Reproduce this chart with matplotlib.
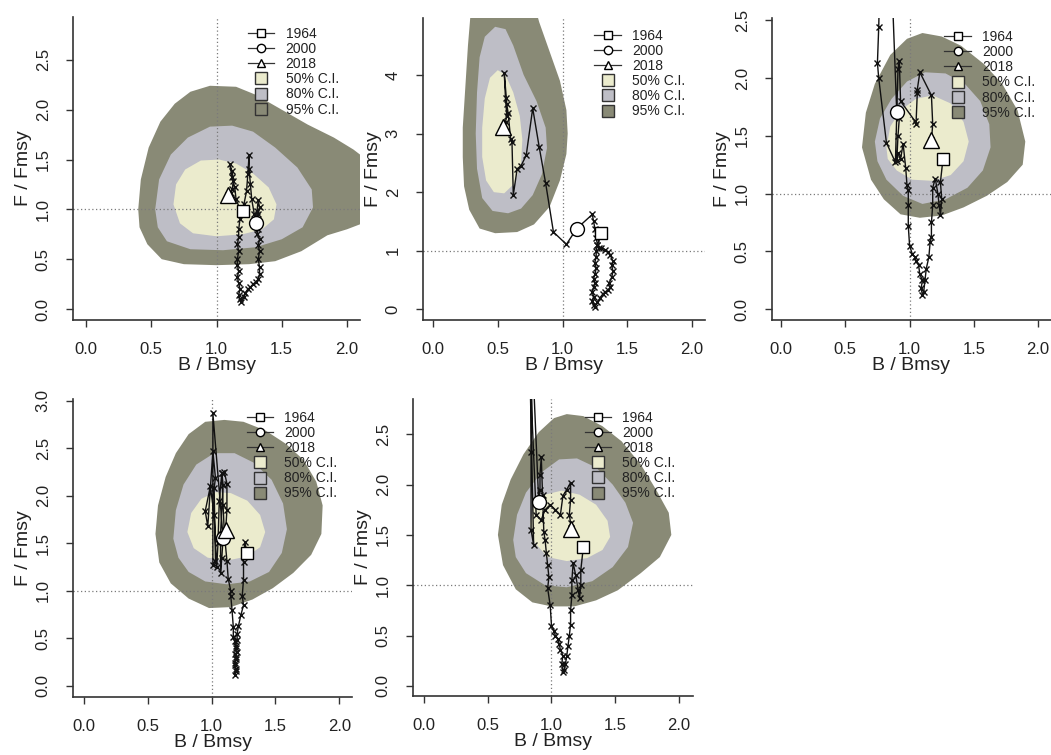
"""
Kobe plots (B/Bmsy vs F/Fmsy) for five model runs, with 50/80/95% C.I.
regions, the 1964-2018 trajectory and the 1964 / 2000 / 2018 markers.
"""

import matplotlib.pyplot as plt
from matplotlib.lines import Line2D
import numpy as np

plt.rcParams.update({"font.family": ["Liberation Sans", "DejaVu Sans"],
                     "font.size": 12})

years = np.arange(1964, 2019)
marked_years = [1964, 2000, 2018]

# ---- trajectories ---------------------------------------------------------
b1 = [1.20, 1.18, 1.17, 1.17, 1.16, 1.17, 1.16, 1.16, 1.17, 1.16, 1.17, 1.18,
      1.17, 1.18, 1.19, 1.21, 1.22, 1.24, 1.26, 1.28, 1.30, 1.32, 1.33, 1.33,
      1.32, 1.33, 1.32, 1.33, 1.31, 1.32, 1.31, 1.32, 1.33, 1.32, 1.31, 1.30,
      1.30, 1.29, 1.27, 1.26, 1.25, 1.25, 1.24, 1.23, 1.21, 1.18, 1.15, 1.14,
      1.12, 1.10, 1.12, 1.13, 1.12, 1.11, 1.09]
f1 = [0.98, 0.90, 0.80, 0.72, 0.65, 0.58, 0.50, 0.44, 0.38, 0.32, 0.26, 0.20,
      0.14, 0.10, 0.07, 0.12, 0.16, 0.20, 0.22, 0.25, 0.27, 0.30, 0.35, 0.42,
      0.50, 0.58, 0.64, 0.70, 0.75, 0.80, 0.88, 0.95, 1.02, 1.09, 0.98, 0.92,
      0.86, 0.95, 1.10, 1.25, 1.40, 1.55, 1.35, 1.18, 1.05, 1.00, 1.10, 1.22,
      1.32, 1.46, 1.38, 1.28, 1.20, 1.16, 1.14]

b2 = [1.30, 1.27, 1.26, 1.26, 1.25, 1.26, 1.25, 1.24, 1.25, 1.24, 1.23, 1.24,
      1.23, 1.24, 1.25, 1.27, 1.29, 1.31, 1.33, 1.35, 1.37, 1.36, 1.38, 1.39,
      1.38, 1.39, 1.37, 1.35, 1.33, 1.30, 1.28, 1.27, 1.26, 1.25, 1.24, 1.23,
      1.11, 1.03, 0.93, 0.87, 0.82, 0.77, 0.72, 0.68, 0.65, 0.62, 0.61, 0.60,
      0.58, 0.57, 0.55, 0.56, 0.57, 0.56, 0.54]
f2 = [1.30, 1.10, 1.00, 0.90, 0.80, 0.70, 0.60, 0.52, 0.45, 0.38, 0.30, 0.22,
      0.15, 0.08, 0.05, 0.12, 0.20, 0.26, 0.30, 0.33, 0.38, 0.45, 0.55, 0.65,
      0.75, 0.82, 0.92, 0.98, 1.02, 1.05, 1.04, 1.10, 1.22, 1.38, 1.50, 1.62,
      1.38, 1.11, 1.32, 2.15, 2.77, 3.43, 2.63, 2.45, 2.40, 1.95, 2.85, 2.90,
      3.35, 3.50, 4.04, 3.60, 3.30, 3.20, 3.11]

b3 = [1.26, 1.24, 1.25, 1.24, 1.23, 1.22, 1.20, 1.18, 1.18, 1.17, 1.17, 1.16,
      1.15, 1.13, 1.12, 1.11, 1.10, 1.09, 1.10, 1.08, 1.07, 1.05, 1.04, 1.02,
      1.00, 0.99, 0.99, 0.99, 0.98, 0.97, 0.95, 0.93, 0.91, 0.90, 0.91, 0.92,
      0.90, 0.86, 0.77, 0.76, 0.75, 0.76, 0.82, 0.89, 0.91, 0.92, 0.93, 1.04,
      1.05, 1.06, 1.06, 1.08, 1.17, 1.18, 1.17]
f3 = [1.30, 1.10, 0.95, 0.81, 0.90, 1.00, 1.13, 1.05, 0.90, 0.75, 0.62, 0.58,
      0.45, 0.35, 0.25, 0.15, 0.12, 0.18, 0.25, 0.30, 0.38, 0.42, 0.45, 0.48,
      0.55, 0.72, 0.90, 1.03, 1.07, 1.22, 1.43, 1.30, 1.35, 1.28, 1.50, 1.65,
      1.71, 2.90, 2.90, 2.44, 2.13, 2.00, 1.44, 1.27, 2.08, 2.15, 1.80, 1.63,
      1.60, 1.87, 1.90, 2.05, 1.85, 1.60, 1.46]

b4 = [1.28, 1.26, 1.25, 1.25, 1.24, 1.25, 1.23, 1.21, 1.20, 1.20, 1.19, 1.20,
      1.19, 1.18, 1.19, 1.18, 1.19, 1.18, 1.19, 1.18, 1.19, 1.18, 1.17, 1.17,
      1.16, 1.15, 1.15, 1.13, 1.12, 1.10, 1.09, 1.08, 1.09, 1.07, 1.07, 1.08,
      1.09, 1.01, 1.01, 1.03, 1.02, 1.03, 1.01, 0.97, 0.95, 0.99, 1.02, 1.04,
      1.05, 1.06, 1.08, 1.10, 1.12, 1.12, 1.11]
f4 = [1.40, 1.51, 1.30, 1.12, 0.95, 0.85, 0.75, 0.63, 0.55, 0.48, 0.42, 0.36,
      0.30, 0.24, 0.18, 0.12, 0.16, 0.22, 0.28, 0.34, 0.40, 0.47, 0.52, 0.62,
      0.80, 0.95, 1.00, 1.13, 1.32, 1.60, 1.90, 2.24, 2.12, 1.60, 1.19, 1.35,
      1.56, 2.87, 1.27, 1.32, 2.08, 2.19, 2.47, 1.68, 1.84, 2.10, 1.80, 1.25,
      1.50, 1.95, 2.24, 2.25, 2.13, 1.85, 1.64]

b5 = [1.25, 1.23, 1.23, 1.22, 1.21, 1.19, 1.17, 1.16, 1.16, 1.15, 1.15, 1.14,
      1.13, 1.12, 1.11, 1.10, 1.09, 1.08, 1.09, 1.07, 1.06, 1.05, 1.03, 1.02,
      1.00, 0.99, 0.97, 0.98, 0.97, 0.96, 0.95, 0.94, 0.93, 0.92, 0.91, 0.91,
      0.90, 0.85, 0.84, 0.84, 0.86, 0.83, 0.88, 0.92, 0.95, 0.99, 1.03, 1.07,
      1.09, 1.12, 1.15, 1.15, 1.14, 1.15, 1.15]
f5 = [1.38, 1.15, 1.00, 0.87, 0.95, 1.10, 1.22, 1.05, 0.90, 0.75, 0.61, 0.50,
      0.40, 0.30, 0.22, 0.16, 0.14, 0.22, 0.30, 0.36, 0.42, 0.47, 0.50, 0.55,
      0.60, 0.80, 0.97, 1.08, 1.20, 1.32, 1.45, 1.53, 1.90, 2.27, 2.10, 1.95,
      1.83, 3.30, 2.32, 1.55, 1.40, 3.20, 1.70, 1.65, 1.75, 1.80, 1.75, 1.70,
      1.89, 1.95, 2.02, 1.85, 1.70, 1.62, 1.56]

# ---- confidence regions, outlines as (B, F) vertices -----------------------
ci95_1 = [(0.40, 1.00), (0.42, 1.30), (0.48, 1.62), (0.57, 1.88), (0.68, 2.06),
          (0.80, 2.18), (0.95, 2.24), (1.15, 2.23), (1.30, 2.15), (1.50, 2.00),
          (1.70, 1.85), (1.90, 1.72), (2.05, 1.60), (2.20, 1.45), (2.20, 0.90),
          (2.00, 0.80), (1.85, 0.74), (1.65, 0.58), (1.45, 0.48), (1.25, 0.45),
          (1.00, 0.44), (0.75, 0.45), (0.58, 0.50), (0.47, 0.65), (0.41, 0.82)]
ci80_1 = [(0.53, 1.00), (0.56, 1.30), (0.65, 1.55), (0.78, 1.72), (0.95, 1.83),
          (1.12, 1.84), (1.28, 1.78), (1.45, 1.62), (1.62, 1.42), (1.73, 1.20),
          (1.74, 1.02), (1.66, 0.82), (1.50, 0.70), (1.30, 0.62), (1.05, 0.59),
          (0.80, 0.60), (0.62, 0.68), (0.55, 0.82)]
ci50_1 = [(0.67, 1.05), (0.69, 1.25), (0.76, 1.40), (0.88, 1.49), (1.02, 1.50),
          (1.15, 1.46), (1.28, 1.36), (1.40, 1.22), (1.46, 1.05), (1.44, 0.90),
          (1.35, 0.80), (1.20, 0.75), (1.00, 0.73), (0.82, 0.76), (0.72, 0.86)]

ci95_2 = [(0.30, 5.30), (0.77, 5.30), (0.82, 4.90), (0.90, 4.40), (0.98, 3.90),
          (1.03, 3.40), (1.04, 3.00), (1.03, 2.65), (0.98, 2.20), (0.90, 1.75),
          (0.78, 1.45), (0.65, 1.32), (0.48, 1.30), (0.36, 1.38), (0.28, 1.70),
          (0.24, 2.10), (0.23, 2.60), (0.23, 3.10), (0.25, 3.80), (0.27, 4.50)]
ci80_2 = [(0.36, 4.30), (0.40, 4.65), (0.48, 4.82), (0.56, 4.78), (0.62, 4.50),
          (0.70, 4.00), (0.80, 3.55), (0.87, 3.10), (0.88, 2.75), (0.84, 2.30),
          (0.77, 1.95), (0.68, 1.72), (0.58, 1.64), (0.46, 1.68), (0.38, 1.90),
          (0.34, 2.40), (0.33, 3.00), (0.34, 3.70)]
ci50_2 = [(0.40, 3.60), (0.44, 3.95), (0.50, 4.08), (0.56, 4.00), (0.62, 3.70),
          (0.67, 3.30), (0.69, 2.90), (0.68, 2.50), (0.63, 2.15), (0.55, 1.98),
          (0.47, 2.00), (0.41, 2.20), (0.38, 2.60), (0.38, 3.10)]

ci95_3 = [(0.63, 1.40), (0.66, 1.70), (0.73, 1.95), (0.85, 2.20), (0.98, 2.34),
          (1.10, 2.39), (1.25, 2.36), (1.40, 2.28), (1.58, 2.12), (1.72, 1.95),
          (1.84, 1.72), (1.90, 1.45), (1.88, 1.25), (1.76, 1.10), (1.60, 0.98),
          (1.42, 0.88), (1.25, 0.81), (1.08, 0.79), (0.93, 0.82), (0.80, 0.95),
          (0.70, 1.12)]
ci80_3 = [(0.73, 1.45), (0.77, 1.65), (0.86, 1.82), (0.98, 1.97), (1.12, 2.05),
          (1.28, 2.04), (1.43, 1.95), (1.55, 1.80), (1.62, 1.60), (1.63, 1.40),
          (1.57, 1.20), (1.45, 1.05), (1.28, 0.95), (1.10, 0.91), (0.95, 0.98),
          (0.82, 1.12), (0.75, 1.28)]
ci50_3 = [(0.82, 1.40), (0.85, 1.58), (0.93, 1.72), (1.05, 1.82), (1.18, 1.85),
          (1.32, 1.78), (1.42, 1.62), (1.46, 1.45), (1.42, 1.28), (1.32, 1.16),
          (1.18, 1.11), (1.02, 1.12), (0.90, 1.20), (0.83, 1.30)]

ci95_4 = [(0.56, 1.60), (0.58, 1.90), (0.64, 2.20), (0.72, 2.45), (0.82, 2.65),
          (0.95, 2.78), (1.10, 2.80), (1.25, 2.78), (1.42, 2.69), (1.58, 2.55),
          (1.72, 2.38), (1.82, 2.15), (1.87, 1.90), (1.86, 1.60), (1.78, 1.38),
          (1.64, 1.19), (1.48, 1.03), (1.32, 0.91), (1.15, 0.83), (0.98, 0.82),
          (0.82, 0.92), (0.68, 1.08), (0.59, 1.30)]
ci80_4 = [(0.70, 1.55), (0.72, 1.85), (0.78, 2.12), (0.88, 2.33), (1.02, 2.45),
          (1.18, 2.45), (1.33, 2.35), (1.47, 2.17), (1.56, 1.92), (1.59, 1.65),
          (1.55, 1.40), (1.45, 1.20), (1.30, 1.10), (1.12, 1.07), (0.95, 1.10),
          (0.82, 1.20), (0.74, 1.35)]
ci50_4 = [(0.81, 1.62), (0.84, 1.82), (0.92, 1.97), (1.03, 2.04), (1.15, 2.03),
          (1.28, 1.95), (1.38, 1.80), (1.42, 1.62), (1.38, 1.46), (1.27, 1.36),
          (1.12, 1.32), (0.97, 1.35), (0.86, 1.45)]

ci95_5 = [(0.58, 1.50), (0.61, 1.80), (0.68, 2.05), (0.78, 2.30), (0.90, 2.52),
          (1.02, 2.66), (1.12, 2.70), (1.25, 2.68), (1.40, 2.58), (1.55, 2.43),
          (1.70, 2.20), (1.82, 1.95), (1.92, 1.72), (1.94, 1.50), (1.85, 1.28),
          (1.70, 1.12), (1.52, 0.95), (1.35, 0.85), (1.18, 0.79), (1.00, 0.79),
          (0.85, 0.83), (0.72, 0.96), (0.62, 1.20)]
ci80_5 = [(0.70, 1.45), (0.73, 1.70), (0.80, 1.92), (0.92, 2.12), (1.06, 2.25),
          (1.20, 2.26), (1.35, 2.17), (1.48, 2.00), (1.58, 1.82), (1.64, 1.62),
          (1.60, 1.38), (1.48, 1.18), (1.32, 1.04), (1.12, 0.98), (0.95, 1.00),
          (0.80, 1.12), (0.72, 1.28)]
ci50_5 = [(0.83, 1.60), (0.86, 1.78), (0.95, 1.90), (1.08, 1.94), (1.22, 1.90),
          (1.35, 1.80), (1.44, 1.64), (1.46, 1.48), (1.40, 1.35), (1.28, 1.27),
          (1.12, 1.24), (0.97, 1.28), (0.87, 1.42)]

ci_labels = ["50% C.I.", "80% C.I.", "95% C.I."]
ci_colors = ["#EBEBCD", "#BEBEC6", "#898A76"]

W, H = 1051, 755


def px_axes(fig, left, top, right, bottom):
    return fig.add_axes([left / W, 1 - bottom / H, (right - left) / W,
                         (bottom - top) / H])


def kobe(ax, b, f, regions, xlim, ylim, yticks, yfmt, anchor):
    for poly, col in zip(regions[::-1], ci_colors[::-1]):
        xs, ys = zip(*poly)
        ax.fill(xs, ys, color=col, lw=0, zorder=1)
    ax.axhline(1, color="#7a7a7a", ls=(0, (1, 2)), lw=0.9, zorder=2)
    ax.axvline(1, color="#7a7a7a", ls=(0, (1, 2)), lw=0.9, zorder=2)
    ax.plot(b, f, "-x", color="#111111", lw=1.0, ms=5, mew=1.0, zorder=3)

    i = [list(years).index(y) for y in marked_years]
    style = dict(mfc="white", mec="black", mew=1, ls="none", zorder=4)
    ax.plot(b[i[0]], f[i[0]], "s", ms=8.5, **style)
    ax.plot(b[i[1]], f[i[1]], "o", ms=10, **style)
    ax.plot(b[i[2]], f[i[2]], "^", ms=12, **style)

    ax.set_xlim(*xlim)
    ax.set_ylim(*ylim)
    ax.set_xticks([0, 0.5, 1.0, 1.5, 2.0])
    ax.set_xticklabels(["0.0", "0.5", "1.0", "1.5", "2.0"])
    ax.set_yticks(yticks)
    ax.set_yticklabels([yfmt % v for v in yticks], rotation=90, va="center")
    for s in ("top", "right"):
        ax.spines[s].set_visible(False)
    for s in ("left", "bottom"):
        ax.spines[s].set_color("#333333")
        ax.spines[s].set_linewidth(1.2)
    ax.tick_params(direction="out", length=5, width=1, color="#333333",
                   labelsize=12, pad=11, labelcolor="#222222")
    ax.set_xlabel("B / Bmsy", fontsize=14, labelpad=0, color="#222222")
    ax.set_ylabel("F / Fmsy", fontsize=14, labelpad=3, color="#222222")

    year_marks = ["s", "o", "^"]
    handles = [Line2D([], [], color="#333333", lw=0.9, marker=m, ms=6,
                      mfc="white", mec="black") for m in year_marks]
    handles += [Line2D([], [], ls="none", marker="s", ms=8, mfc=c,
                       mec="#333333") for c in ci_colors]
    labels = [str(y) for y in marked_years] + ci_labels
    leg = ax.legend(handles, labels, loc="upper left", bbox_to_anchor=anchor,
                    frameon=False, fontsize=10, labelspacing=0.08,
                    handlelength=1.9, handletextpad=0.8, borderpad=0,
                    borderaxespad=0)
    for t in leg.get_texts():
        t.set_color("#222222")
    leg.set_zorder(5)


fig = plt.figure(figsize=(W / 100, H / 100), dpi=100)

kobe(px_axes(fig, 73, 17, 360, 320), b1, f1, [ci50_1, ci80_1, ci95_1],
     (-0.10, 2.10), (-0.11, 2.93), [0, 0.5, 1.0, 1.5, 2.0, 2.5], "%.1f",
     (0.61, 0.967))
kobe(px_axes(fig, 423, 18, 705, 320), b2, f2, [ci50_2, ci80_2, ci95_2],
     (-0.077, 2.10), (-0.18, 4.97), [0, 1, 2, 3, 4], "%d",
     (0.608, 0.964))
kobe(px_axes(fig, 772, 18, 1051, 320), b3, f3, [ci50_3, ci80_3, ci95_3],
     (-0.07, 2.10), (-0.095, 2.52), [0, 0.5, 1.0, 1.5, 2.0, 2.5], "%.1f",
     (0.618, 0.96))
kobe(px_axes(fig, 73, 399, 352, 697), b4, f4, [ci50_4, ci80_4, ci95_4],
     (-0.086, 2.10), (-0.116, 3.02), [0, 0.5, 1.0, 1.5, 2.0, 2.5, 3.0], "%.1f",
     (0.622, 0.96))
kobe(px_axes(fig, 413, 399, 693, 696), b5, f5, [ci50_5, ci80_5, ci95_5],
     (-0.086, 2.11), (-0.10, 2.85), [0, 0.5, 1.0, 1.5, 2.0, 2.5], "%.1f",
     (0.6125, 0.96))

fig.savefig("out.png", dpi=100)
